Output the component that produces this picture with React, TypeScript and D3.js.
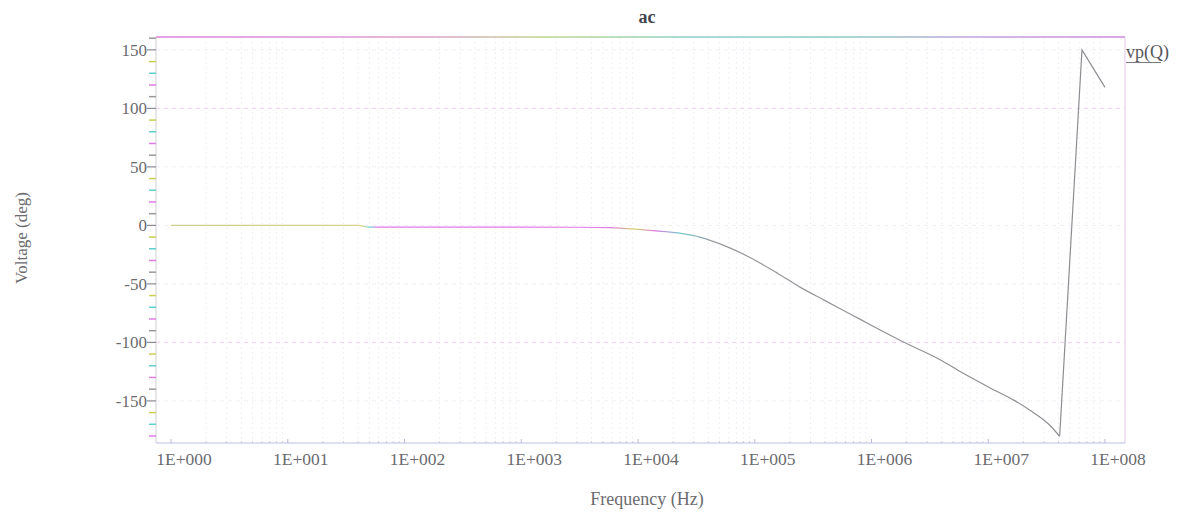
import React from "react";
import * as d3 from "d3";

// AC sweep: phase of node Q versus frequency
const chartTitle = "ac";
const xAxisTitle = "Frequency (Hz)";
const yAxisTitle = "Voltage (deg)";
const seriesName = "vp(Q)";

const freqHz = [
  1, 10, 40, 50, 100, 1000, 3000, 5750, 12600, 24000, 29500, 41500, 91000,
  160000, 246000, 400000, 662000, 1070000, 2000000, 3900000, 6000000,
  10200000, 17000000, 24000000, 33000000, 40900000, 63500000, 100000000,
];
const phaseDeg = [
  0, 0, 0, -1.5, -1.5, -1.5, -1.6, -1.9, -4.3, -7, -8.6, -12.8, -27.4,
  -41.5, -53, -64.3, -75.9, -87, -101, -115, -126, -138.5, -150, -159.5, -170,
  -180.3, 150, 118,
];

const xTickValues = [1, 1e1, 1e2, 1e3, 1e4, 1e5, 1e6, 1e7, 1e8];
const xTickLabels = [
  "1E+000", "1E+001", "1E+002", "1E+003", "1E+004",
  "1E+005", "1E+006", "1E+007", "1E+008",
];
const yTickValues = [-150, -100, -50, 0, 50, 100, 150];
const yMinorValues = d3.range(-180, 161, 10).filter((v) => v % 50 !== 0);

const W = 1186;
const H = 516;
const FRAME_LEFT = 156;
const FRAME_RIGHT = 1125;
const SERIF = "'Liberation Serif', 'DejaVu Serif', serif";
const TEXT = "#6b6b6f";

const x = d3.scaleLog().domain([1, 1e8]).range([171, 1105]);
const y = d3.scaleLinear().domain([-186, 161]).range([443, 37]);

const frameTop = y(161);
const frameBottom = y(-186);

const minorTickColors = ["#e07ce6", "#5fd0cf", "#c9cf55", "#9a9a9a"];

type Pt = { f: number; p: number };
const points: Pt[] = freqHz.map((f, i) => ({ f, p: phaseDeg[i] }));

// the smooth roll-off ends at the phase minimum; the wrap-around after it is a straight jump
const wrapIndex = phaseDeg.indexOf(d3.min(phaseDeg) as number);
const smoothPart = points.slice(0, wrapIndex + 1);
const wrapPart = points.slice(wrapIndex);

const smoothLine = d3
  .line<Pt>()
  .x((d) => x(d.f))
  .y((d) => y(d.p))
  .curve(d3.curveMonotoneX);

const straightLine = d3
  .line<Pt>()
  .x((d) => x(d.f))
  .y((d) => y(d.p))
  .curve(d3.curveLinear);

// faint log grid positions (2..9 within each decade)
const logMinor: number[] = [];
for (let e = 0; e < 8; e++) {
  for (let m = 2; m <= 9; m++) logMinor.push(m * Math.pow(10, e));
}

export default function App() {
  const x0 = x(1);
  const x1 = x(1e8);
  const off = (px: number) => `${((px - x0) / (x1 - x0)) * 100}%`;

  return (
    <svg
      width={W}
      height={H}
      viewBox={`0 0 ${W} ${H}`}
      style={{ position: "absolute", left: 0, top: 0, background: "#fff" }}
    >
      <defs>
        <linearGradient id="traceGrad" gradientUnits="userSpaceOnUse" x1={x0} x2={x1} y1={0} y2={0}>
          <stop offset="0%" stopColor="#cfd08a" />
          <stop offset={off(362)} stopColor="#d3d383" />
          <stop offset={off(370)} stopColor="#6fd0d0" />
          <stop offset={off(378)} stopColor="#e37ae8" />
          <stop offset={off(610)} stopColor="#e37ae8" />
          <stop offset={off(635)} stopColor="#d6d46a" />
          <stop offset={off(655)} stopColor="#e07ce6" />
          <stop offset={off(680)} stopColor="#78c8d0" />
          <stop offset={off(715)} stopColor="#98989c" />
          <stop offset="100%" stopColor="#8c8c90" />
        </linearGradient>
        <linearGradient id="topGrad" gradientUnits="userSpaceOnUse" x1={FRAME_LEFT} x2={FRAME_RIGHT} y1={0} y2={0}>
          <stop offset="0%" stopColor="#e6a0e8" />
          <stop offset="28%" stopColor="#e4b8d8" />
          <stop offset="40%" stopColor="#cfe0a8" />
          <stop offset="55%" stopColor="#a8dcd4" />
          <stop offset="72%" stopColor="#a8d8d0" />
          <stop offset="85%" stopColor="#d2b8e6" />
          <stop offset="100%" stopColor="#d8a8e0" />
        </linearGradient>
      </defs>

      {/* faint grid */}
      <g>
        {logMinor.map((v) => (
          <line
            key={`gv${v}`}
            x1={x(v)}
            x2={x(v)}
            y1={frameTop}
            y2={frameBottom}
            stroke="#f3eff5"
            strokeWidth={1}
            strokeDasharray="2 3"
          />
        ))}
        {yTickValues.map((v) => (
          <line
            key={`gh${v}`}
            x1={FRAME_LEFT}
            x2={FRAME_RIGHT}
            y1={y(v)}
            y2={y(v)}
            stroke={Math.abs(v) === 100 ? "#e8d4ea" : "#f3ecf4"}
            strokeWidth={1}
            strokeDasharray="4 4"
          />
        ))}
      </g>

      {/* frame */}
      <line x1={FRAME_LEFT} x2={FRAME_RIGHT} y1={frameTop} y2={frameTop} stroke="url(#topGrad)" strokeWidth={2} />
      <line x1={FRAME_RIGHT} x2={FRAME_RIGHT} y1={frameTop} y2={frameBottom} stroke="#e2c6e4" strokeWidth={1} />
      <line x1={FRAME_LEFT} x2={FRAME_RIGHT} y1={frameBottom} y2={frameBottom} stroke="#b9bde6" strokeWidth={1.2} />
      <line x1={FRAME_LEFT} x2={FRAME_LEFT} y1={frameTop} y2={frameBottom} stroke="#cfcfd4" strokeWidth={1} />

      {/* y axis ticks */}
      <g>
        {yMinorValues.map((v, i) => (
          <line
            key={`ym${v}`}
            x1={FRAME_LEFT - 7}
            x2={FRAME_LEFT}
            y1={y(v)}
            y2={y(v)}
            stroke={minorTickColors[i % minorTickColors.length]}
            strokeWidth={1.5}
          />
        ))}
        {yTickValues.map((v) => (
          <g key={`yt${v}`}>
            <line x1={FRAME_LEFT - 9} x2={FRAME_LEFT} y1={y(v)} y2={y(v)} stroke="#8c8c94" strokeWidth={1.2} />
            <text
              x={FRAME_LEFT - 9}
              y={y(v)}
              dy="0.35em"
              textAnchor="end"
              fontFamily={SERIF}
              fontSize={17}
              fill={TEXT}
            >
              {v}
            </text>
          </g>
        ))}
      </g>

      {/* x axis ticks */}
      <g>
        {logMinor.map((v) => (
          <line
            key={`xm${v}`}
            x1={x(v)}
            x2={x(v)}
            y1={frameBottom}
            y2={frameBottom - 2}
            stroke="#d4c8e0"
            strokeWidth={1}
          />
        ))}
        {xTickValues.map((v, i) => (
          <g key={`xt${v}`}>
            <line x1={x(v)} x2={x(v)} y1={frameBottom} y2={frameBottom - 4} stroke="#c0b8dc" strokeWidth={1} />
            <text
              x={x(v) + 13}
              y={465}
              textAnchor="middle"
              fontFamily={SERIF}
              fontSize={17.5}
              fill={TEXT}
            >
              {xTickLabels[i]}
            </text>
          </g>
        ))}
      </g>

      {/* trace */}
      <path d={smoothLine(smoothPart) ?? ""} fill="none" stroke="url(#traceGrad)" strokeWidth={1.2} />
      <path d={straightLine(wrapPart) ?? ""} fill="none" stroke="url(#traceGrad)" strokeWidth={1.2} />

      {/* legend */}
      <text x={FRAME_RIGHT + 1} y={58} fontFamily={SERIF} fontSize={18} fill="#55555a">
        {seriesName}
      </text>
      <line x1={FRAME_RIGHT + 1} x2={FRAME_RIGHT + 36} y1={62.5} y2={62.5} stroke="#7a7a80" strokeWidth={1} />

      {/* titles */}
      <text x={647} y={23} textAnchor="middle" fontFamily={SERIF} fontSize={18} fontWeight="bold" fill="#45454c">
        {chartTitle}
      </text>
      <text x={647} y={505} textAnchor="middle" fontFamily={SERIF} fontSize={18} fill={TEXT}>
        {xAxisTitle}
      </text>
      <text
        transform={`translate(27, 238) rotate(-90)`}
        textAnchor="middle"
        fontFamily={SERIF}
        fontSize={17}
        fill={TEXT}
      >
        {yAxisTitle}
      </text>
    </svg>
  );
}
